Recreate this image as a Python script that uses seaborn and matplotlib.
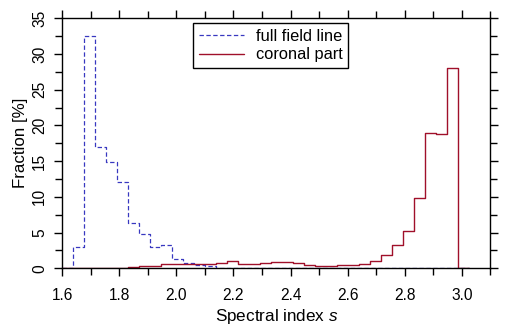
import pandas as pd
import matplotlib
matplotlib.use("Agg")
import matplotlib.pyplot as plt
from matplotlib.ticker import MultipleLocator
import seaborn as sns

# histogram bins (spectral index), common to both curves
bin_start = 1.6001
bin_width = 0.0385
n_bins = 37

# fraction [%] per bin, first and last bins are empty padding
full_field_line = [0.0, 3.0, 32.5, 17.0, 14.9, 12.1, 6.4, 4.8, 3.0, 3.2, 1.3,
                   0.7, 0.45, 0.35, 0.0, 0.0, 0.0, 0.0, 0.0, 0.0, 0.0, 0.0,
                   0.0, 0.0, 0.0, 0.0, 0.0, 0.0, 0.0, 0.0, 0.0, 0.0, 0.0, 0.0,
                   0.0, 0.0, 0.0]
coronal_part = [0.0, 0.0, 0.0, 0.0, 0.0, 0.0, 0.14, 0.35, 0.37, 0.6, 0.6,
                0.6, 0.6, 0.6, 0.8, 1.0, 0.56, 0.56, 0.78, 0.88, 0.88, 0.7,
                0.42, 0.3, 0.3, 0.42, 0.42, 0.6, 1.02, 1.84, 3.26, 5.22, 9.84,
                18.94, 18.76, 28.0, 0.0]

edges = [bin_start + bin_width * i for i in range(n_bins + 1)]
centers = [0.5 * (edges[i] + edges[i + 1]) for i in range(n_bins)]
df = pd.DataFrame({"s": centers, "full": full_field_line, "coronal": coronal_part})

sns.set_style("ticks")
plt.rcParams["font.family"] = ["Liberation Sans", "DejaVu Sans"]
plt.rcParams["mathtext.fontset"] = "custom"
plt.rcParams["mathtext.it"] = "Liberation Sans:italic"
plt.rcParams["text.color"] = "black"
plt.rcParams["axes.labelcolor"] = "black"
plt.rcParams["xtick.color"] = "black"
plt.rcParams["ytick.color"] = "black"

fig, ax = plt.subplots(figsize=(5.21, 3.32), dpi=100)
fig.subplots_adjust(left=0.1196, right=0.941, bottom=0.192, top=0.945)

sns.histplot(data=df, x="s", weights="full", bins=edges, element="step",
             fill=False, color="#3838c0", linestyle=(0, (3.5, 2)), linewidth=0.9,
             ax=ax, label="full field line")
sns.histplot(data=df, x="s", weights="coronal", bins=edges, element="step",
             fill=False, color="#a0102a", linewidth=1.0, ax=ax,
             label="coronal part")

ax.set_xlim(1.6, 3.1)
ax.set_ylim(0, 35)
ax.xaxis.set_major_locator(MultipleLocator(0.2))
ax.xaxis.set_minor_locator(MultipleLocator(0.1))
ax.yaxis.set_major_locator(MultipleLocator(5))
ax.yaxis.set_minor_locator(MultipleLocator(2.5))
ax.xaxis.set_major_formatter(plt.FormatStrFormatter("%.1f"))

ax.tick_params(which="both", direction="out", top=True, right=True,
               color="black", labelcolor="black", width=1.0, labelsize=11.2)
ax.tick_params(which="major", length=6)
ax.tick_params(which="minor", length=5)
ax.tick_params(axis="x", which="major", pad=8)
ax.tick_params(axis="y", which="major", pad=5, labelrotation=90)
for lbl in ax.get_yticklabels():
    lbl.set_va("center")

for sp in ax.spines.values():
    sp.set_visible(True)
    sp.set_color("black")
    sp.set_linewidth(1.0)

ax.set_xlabel("Spectral index $s$", fontsize=12.3, labelpad=3, color="black")
ax.set_ylabel("Fraction [%]", fontsize=12.2, labelpad=3, color="black")

leg = ax.legend(loc="upper left", bbox_to_anchor=(0.305, 0.98), fontsize=11.8,
                frameon=True, fancybox=False, edgecolor="black",
                handlelength=2.8, borderpad=0.35, labelspacing=0.2,
                handletextpad=0.7, borderaxespad=0)
leg.get_frame().set_linewidth(1.0)
leg.get_frame().set_alpha(1)
for t in leg.get_texts():
    t.set_color("black")

fig.savefig("out.png", dpi=100)
plt.close(fig)
